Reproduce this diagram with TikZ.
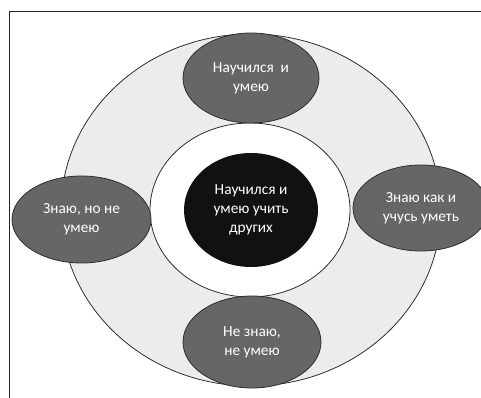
\documentclass[tikz,border=0pt]{standalone}
\usepackage{fontspec}
\setmainfont{Carlito}
\usetikzlibrary{shapes.geometric}
\newdimen\pxu
\pxu=0.75pt
\definecolor{ringgray}{HTML}{ECECEC}
\definecolor{skillgray}{HTML}{666666}
\definecolor{edgegray}{HTML}{2E2E2E}
\definecolor{coreblack}{HTML}{111111}
\tikzset{
  oval/.style={ellipse, inner sep=0pt, line width=0.6pt, draw=edgegray},
  skill/.style={oval, fill=skillgray, text=white, align=center,
    font=\fontsize{11.5}{14}\selectfont},
}
\begin{document}
\begin{tikzpicture}[x=0.75pt,y=-0.75pt]
            \useasboundingbox (0,0) rectangle (481,398);
            \clip (0,0) rectangle (481,398);

            % Frame, only its top and left sides are seen
            \draw [line width=1.4pt, black!85] (481,11.5) -- (9.5,11.5) -- (9.5,398);%

            % Outer ring
            \node (ring) [oval, fill=ringgray, minimum width=380\pxu, minimum height=352\pxu] at (251,210) {};%

            % White hole of the ring
            \node (hole) [oval, fill=white, minimum width=200\pxu, minimum height=174\pxu] at (250,210) {};%

            % Centre
            \node (core) [skill, fill=coreblack, draw=none, minimum width=134\pxu, minimum height=114\pxu] at (251,210) {Научился и\\умею учить\\других};%

            % Top
            \node (top) [skill, minimum width=136\pxu, minimum height=90\pxu] at (251,78) {Научился~ и\\умею};%

            % Right
            \node (right) [skill, minimum width=136\pxu, minimum height=86\pxu] at (421,208) {Знаю как и\\учусь уметь};%

            % Bottom
            \node (bottom) [skill, minimum width=138\pxu, minimum height=92\pxu] at (252,342) {Не знаю,\\не умею};%

            % Left
            \node (left) [skill, minimum width=139\pxu, minimum height=87\pxu] at (81.5,219.5) {Знаю, но не\\умею};%
\end{tikzpicture}
\end{document}
